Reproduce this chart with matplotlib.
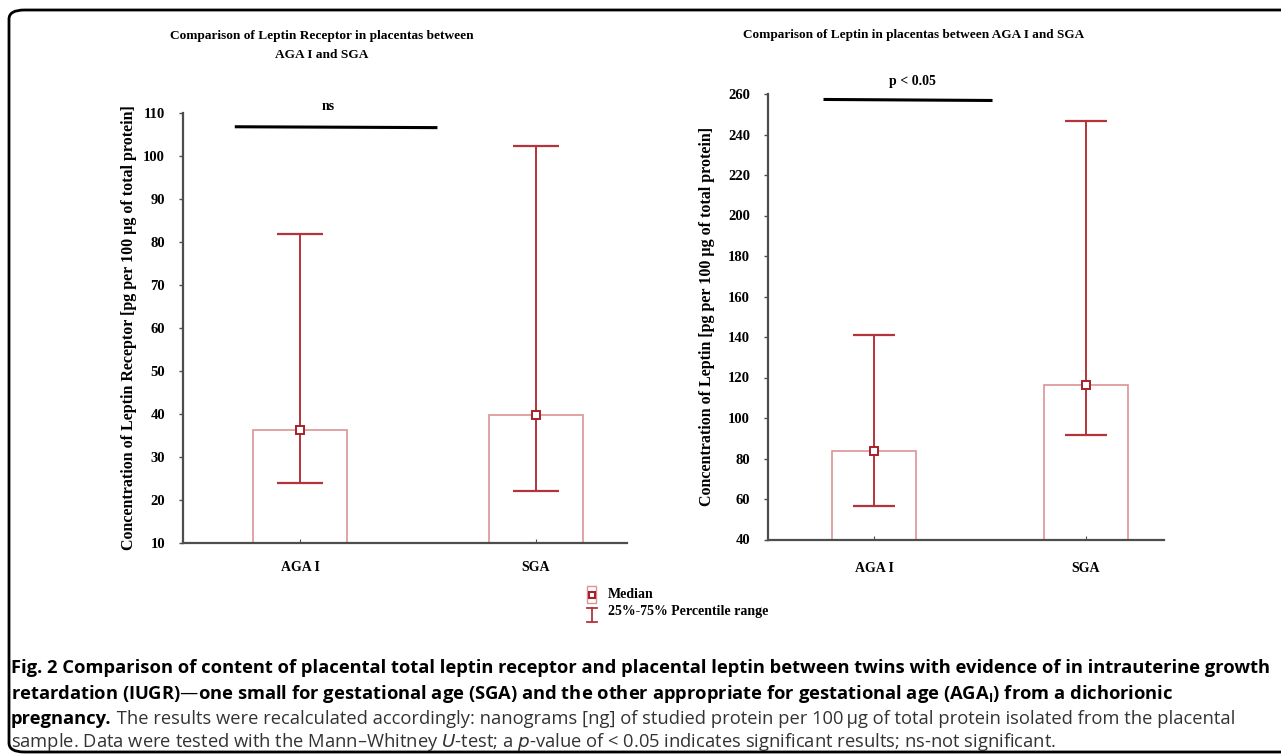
import matplotlib
matplotlib.use("Agg")
import matplotlib.pyplot as plt
from matplotlib.patches import FancyBboxPatch, Rectangle
from matplotlib.lines import Line2D

# ---- data ----
categories = ["AGA I", "SGA"]
lepr_median = [36.2, 39.8]
lepr_q25 = [24.0, 22.2]
lepr_q75 = [81.8, 102.3]
lep_median = [83.8, 116.5]
lep_q25 = [56.5, 91.6]
lep_q75 = [140.8, 246.8]

left_title = "Comparison of Leptin Receptor in placentas between\nAGA I and SGA"
right_title = "Comparison of Leptin in placentas between AGA I and SGA"
left_ylabel = "Concentration of Leptin Receptor [pg per 100 µg of total protein]"
right_ylabel = "Concentration of Leptin [pg per 100 µg of total protein]"
left_yticks = [10, 20, 30, 40, 50, 60, 70, 80, 90, 100, 110]
right_yticks = [40, 60, 80, 100, 120, 140, 160, 180, 200, 220, 240, 260]
left_sig = "ns"
right_sig = "p < 0.05"

W, H = 1281, 755
fig = plt.figure(figsize=(W / 100, H / 100), dpi=100)
serif = "Liberation Serif"

BAR_EDGE = "#dc9496"
ERR = "#b3343a"
MED = "#a8202a"
AXC = "#4d4d4d"


def fx(px):
    return px / W


def fy(py):
    return 1 - py / H


def panel(rect, xlim, ylim, yticks, med, q25, q75, ylabel, ylabx, sig, sig_x, sig_y,
          txt_x, txt_y, capw, xpad):
    ax = fig.add_axes(rect)
    x = list(range(len(categories)))
    heights = [m - ylim[0] for m in med]
    ax.bar(x, heights, width=0.40, bottom=ylim[0], fill=False, edgecolor=BAR_EDGE,
           linewidth=1.2, zorder=2)
    lo = [m - a for m, a in zip(med, q25)]
    hi = [b - m for m, b in zip(med, q75)]
    ax.errorbar(x, med, yerr=[lo, hi], fmt="none", ecolor=ERR, elinewidth=1.4,
                capsize=capw, capthick=1.6, zorder=3)
    ax.plot(x, med, linestyle="none", marker="s", markersize=5.5, markerfacecolor="white",
            markeredgecolor=MED, markeredgewidth=1.4, zorder=4)
    ax.set_xlim(*xlim)
    ax.set_ylim(*ylim)
    ax.set_yticks(yticks)
    ax.set_xticks(x)
    ax.set_xticklabels(categories)
    for s in ["top", "right"]:
        ax.spines[s].set_visible(False)
    for s in ["left", "bottom"]:
        ax.spines[s].set_color(AXC)
        ax.spines[s].set_linewidth(1.6)
    ax.tick_params(axis="y", direction="out", length=3, width=1, color=AXC, pad=10,
                   labelsize=10.5)
    ax.tick_params(axis="x", direction="in", length=3, width=0.8, color=AXC, pad=xpad,
                   labelsize=10)
    for lab in ax.get_yticklabels() + ax.get_xticklabels():
        lab.set_fontfamily(serif)
        lab.set_fontweight("bold")
    ax.set_ylabel(ylabel, fontfamily=serif, fontweight="bold", fontsize=11.5)
    ax.yaxis.set_label_coords(ylabx, 0.5)
    ax.plot(sig_x, sig_y, color="black", linewidth=2.2, clip_on=False, zorder=5)
    ax.text(txt_x, txt_y, sig, ha="center", va="center", fontfamily=serif,
            fontweight="bold", fontsize=10, clip_on=False)
    ax.patch.set_alpha(0)
    return ax


axL = panel([fx(183), fy(543), fx(627) - fx(183), fy(113) - fy(543)],
            (-0.496, 1.386), (10, 110), left_yticks,
            lepr_median, lepr_q25, lepr_q75, left_ylabel, -0.104, left_sig,
            [-0.27, 0.576], [106.8, 106.6], 0.119, 111.4, 16.5, 12.8)
axR = panel([fx(768), fy(539.5), fx(1164) - fx(768), fy(94) - fy(539.5)],
            (-0.5, 1.368), (40, 260), right_yticks,
            lep_median, lep_q25, lep_q75, right_ylabel, -0.134, right_sig,
            [-0.231, 0.552], [257.3, 256.8], 0.18, 266.0, 14.8, 16)

fig.text(fx(322), fy(36), left_title.split("\n")[0], ha="center", va="center",
         fontfamily=serif, fontweight="bold", fontsize=9.6)
fig.text(fx(322), fy(55), left_title.split("\n")[1], ha="center", va="center",
         fontfamily=serif, fontweight="bold", fontsize=9.6)
fig.text(fx(914), fy(35), right_title, ha="center", va="center", fontfamily=serif,
         fontweight="bold", fontsize=9.5)

# legend
fig.add_artist(Rectangle((fx(587), fy(603)), fx(9), fy(586) - fy(603), fill=False,
                         edgecolor=BAR_EDGE, linewidth=1.0, transform=fig.transFigure))
fig.add_artist(Line2D([fx(591.5)], [fy(594.5)], marker="s", markersize=4.5,
                      markerfacecolor="white", markeredgecolor=MED, markeredgewidth=1.5,
                      transform=fig.transFigure))
fig.add_artist(Line2D([fx(592), fx(592)], [fy(608), fy(622)], color=ERR, linewidth=1.3,
                      transform=fig.transFigure))
fig.add_artist(Line2D([fx(587), fx(597)], [fy(608), fy(608)], color=ERR, linewidth=1.3,
                      transform=fig.transFigure))
fig.add_artist(Line2D([fx(587), fx(597)], [fy(622), fy(622)], color=ERR, linewidth=1.3,
                      transform=fig.transFigure))
fig.text(fx(608), fy(595), "Median", ha="left", va="center", fontfamily=serif,
         fontweight="bold", fontsize=10)
fig.text(fx(608), fy(612), "25%-75% Percentile range", ha="left", va="center",
         fontfamily=serif, fontweight="bold", fontsize=10)

# border
fig.add_artist(FancyBboxPatch((fx(9), fy(752)), fx(1320) - fx(9), fy(10) - fy(752),
                              boxstyle="round,pad=0,rounding_size=0.012",
                              fill=False, edgecolor="black", linewidth=2.0,
                              transform=fig.transFigure, clip_on=False))

# caption
cap_font = ["Open Sans", "DejaVu Sans"]
CS = 13.2
cap1 = ("Fig. 2 Comparison of content of placental total leptin receptor and placental leptin "
        "between twins with evidence of in intrauterine growth")
cap2 = ("retardation (IUGR)—one small for gestational age (SGA) and the other appropriate for "
        "gestational age (AGA$_\\mathregular{I}$) from a dichorionic")
cap3b = "pregnancy."
cap3 = (" The results were recalculated accordingly: nanograms [ng] of studied protein per "
        "100\u2009µg of total protein isolated from the placental")
cap4 = ("sample. Data were tested with the Mann–Whitney $\\mathit{U}$-test; a $\\mathit{p}$-value of "
        "< 0.05 indicates significant results; ns-not significant.")
fig.text(fx(11), fy(668), cap1, ha="left", va="center", family=cap_font,
         fontweight="bold", fontsize=CS)
fig.text(fx(11), fy(694), cap2, ha="left", va="center", family=cap_font,
         fontweight="bold", fontsize=CS)
t3 = fig.text(fx(11), fy(719), cap3b, ha="left", va="center", family=cap_font,
              fontweight="bold", fontsize=CS)
fig.canvas.draw()
bb = t3.get_window_extent()
fig.text(bb.x1 / W, fy(719), cap3, ha="left", va="center", family=cap_font,
         fontsize=CS, color="#333333")
fig.text(fx(11), fy(742), cap4, ha="left", va="center", family=cap_font,
         fontsize=CS, color="#333333")

fig.savefig("out.png", dpi=100)
